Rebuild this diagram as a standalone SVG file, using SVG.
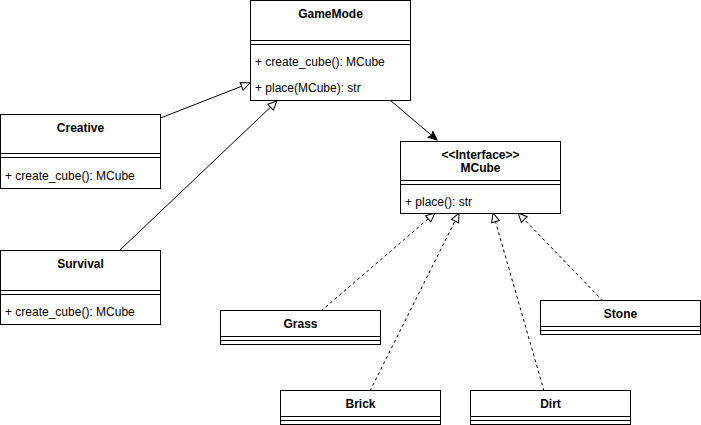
<svg xmlns="http://www.w3.org/2000/svg" width="701" height="425" viewBox="0 0 701 425">
<style>
.box{fill:#fff;stroke:#000;stroke-width:1}
.ln{stroke:#000;stroke-width:1;fill:none}
.t{font-family:"Liberation Sans",Arial,sans-serif;font-size:12px;fill:#000}
.b{font-weight:bold;text-anchor:middle}
.dash{stroke-dasharray:3 3}
</style>
<defs>
<marker id="tri" markerWidth="12" markerHeight="12" refX="10" refY="5" orient="auto" markerUnits="userSpaceOnUse" viewBox="0 0 12 10">
<path d="M1,1 L10,5 L1,9 Z" fill="#fff" stroke="#000" stroke-width="1"/>
</marker>
<marker id="arr" markerWidth="10" markerHeight="10" refX="9" refY="4" orient="auto" markerUnits="userSpaceOnUse" viewBox="0 0 10 8">
<path d="M0,0 L9,4 L0,8 L2,4 Z" fill="#000" stroke="#000" stroke-width="1"/>
</marker>
</defs>
<g id="connectors">
<path class="ln" d="M160.5,118 L250,83" marker-end="url(#tri)"/>
<path class="ln" d="M120,250 L277,101" marker-end="url(#tri)"/>
<path class="ln" d="M390,100 L437,140" marker-end="url(#arr)"/>
<path class="ln dash" d="M321,311 L435,213" marker-end="url(#tri)"/>
<path class="ln dash" d="M370,391 L459,213" marker-end="url(#tri)"/>
<path class="ln dash" d="M544,391 L493,213" marker-end="url(#tri)"/>
<path class="ln dash" d="M603,301 L518,213" marker-end="url(#tri)"/>
</g>
<g id="GameMode">
<rect class="box" x="250.5" y="0.5" width="160" height="100"/>
<line class="ln" x1="250.5" y1="40.5" x2="410.5" y2="40.5"/>
<line class="ln" x1="250.5" y1="44.5" x2="410.5" y2="44.5"/>
<text class="t b" x="330.5" y="18">GameMode</text>
<text class="t" x="255" y="66">+ create_cube(): MCube</text>
<text class="t" x="255" y="92">+ place(MCube): str</text>
</g>
<g id="Creative">
<rect class="box" x="0.5" y="114.5" width="160" height="74"/>
<line class="ln" x1="0.5" y1="153.5" x2="160.5" y2="153.5"/>
<line class="ln" x1="0.5" y1="157.5" x2="160.5" y2="157.5"/>
<text class="t b" x="80.5" y="132">Creative</text>
<text class="t" x="5" y="180">+ create_cube(): MCube</text>
</g>
<g id="Survival">
<rect class="box" x="0.5" y="250.5" width="160" height="74"/>
<line class="ln" x1="0.5" y1="290.5" x2="160.5" y2="290.5"/>
<line class="ln" x1="0.5" y1="294.5" x2="160.5" y2="294.5"/>
<text class="t b" x="80.5" y="268">Survival</text>
<text class="t" x="5" y="316">+ create_cube(): MCube</text>
</g>
<g id="MCube">
<rect class="box" x="400.5" y="141.5" width="160" height="72"/>
<line class="ln" x1="400.5" y1="180.5" x2="560.5" y2="180.5"/>
<line class="ln" x1="400.5" y1="184.5" x2="560.5" y2="184.5"/>
<text class="t b" x="480.5" y="159">&lt;&lt;Interface&gt;&gt;</text>
<text class="t b" x="480.5" y="172">MCube</text>
<text class="t" x="405" y="206">+ place(): str</text>
</g>
<g id="Grass">
<rect class="box" x="220.5" y="310.5" width="160" height="34"/>
<line class="ln" x1="220.5" y1="336.5" x2="380.5" y2="336.5"/>
<line class="ln" x1="220.5" y1="340.5" x2="380.5" y2="340.5"/>
<text class="t b" x="300.5" y="328">Grass</text>
</g>
<g id="Stone">
<rect class="box" x="540.5" y="300.5" width="160" height="34"/>
<line class="ln" x1="540.5" y1="326.5" x2="700.5" y2="326.5"/>
<line class="ln" x1="540.5" y1="330.5" x2="700.5" y2="330.5"/>
<text class="t b" x="620.5" y="318">Stone</text>
</g>
<g id="Brick">
<rect class="box" x="280.5" y="390.5" width="160" height="34"/>
<line class="ln" x1="280.5" y1="416.5" x2="440.5" y2="416.5"/>
<line class="ln" x1="280.5" y1="420.5" x2="440.5" y2="420.5"/>
<text class="t b" x="360.5" y="408">Brick</text>
</g>
<g id="Dirt">
<rect class="box" x="470.5" y="390.5" width="160" height="34"/>
<line class="ln" x1="470.5" y1="416.5" x2="630.5" y2="416.5"/>
<line class="ln" x1="470.5" y1="420.5" x2="630.5" y2="420.5"/>
<text class="t b" x="550.5" y="408">Dirt</text>
</g>
</svg>
